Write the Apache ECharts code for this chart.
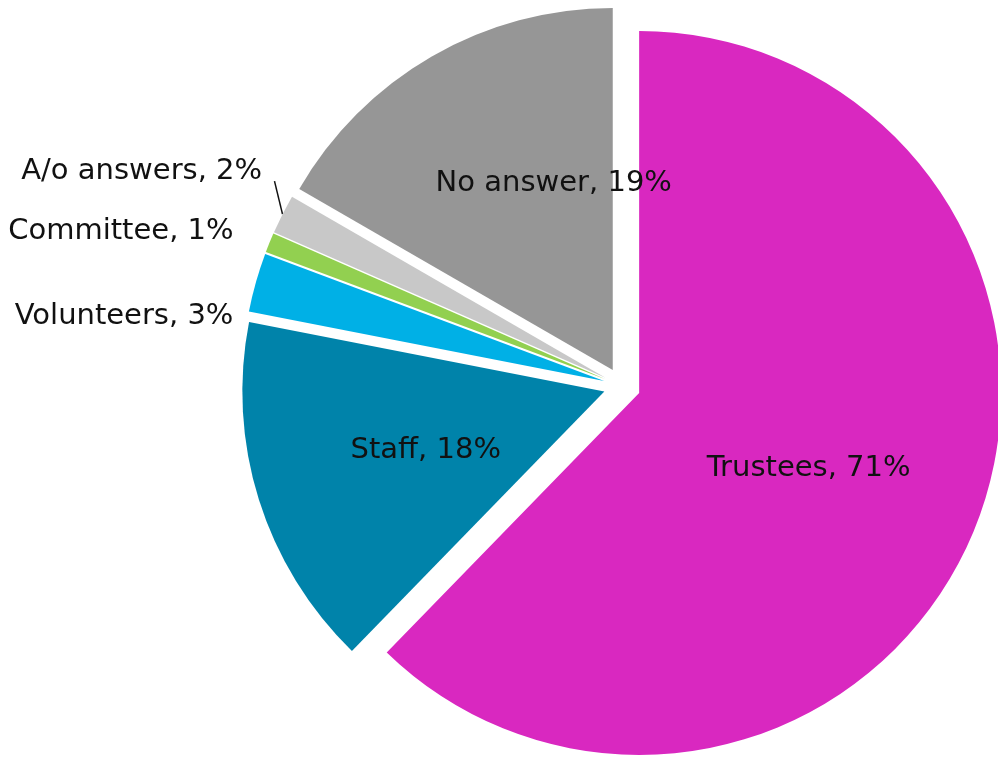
<!DOCTYPE html>
<html>
<head>
<meta charset="utf-8">
<script src="https://cdn.jsdelivr.net/npm/echarts@6/dist/echarts.min.js"></script>
<style>
  html, body { margin: 0; padding: 0; background: #fff; }
  #main { width: 998px; height: 764px; }
</style>
</head>
<body>
<div id="main"></div>
<script>
const categories = ['Trustees', 'Staff', 'Volunteers', 'Committee', 'A/o answers', 'No answer'];
const percents = [71, 18, 3, 1, 2, 19];

const palette = ['#D928C0', '#0083AA', '#00B0E6', '#92D050', '#C8C8C8', '#969696'];
// small nudges so labels sit where the original put them
const labelShift = [[-1, 6], [-3, 4], [12, 38], [-2, -6], [13, -36], [33, -27]];
const outside = [false, false, true, true, true, false];
const showLine = [false, false, false, false, true, false];

const chart = echarts.init(document.getElementById('main'));

const data = categories.map((name, i) => ({
  name,
  value: percents[i],
  selected: true,
  itemStyle: { color: palette[i] },
  label: { position: outside[i] ? 'outside' : 'inside' },
  labelLine: { show: showLine[i] }
}));

chart.setOption({
  animation: false,
  series: [
    {
      type: 'pie',
      center: [622, 386],
      radius: 362,
      startAngle: 90,
      clockwise: true,
      selectedMode: 'multiple',
      selectedOffset: 18.5,
      avoidLabelOverlap: false,
      emphasis: { disabled: true },
      label: {
        show: true,
        formatter: '{b}, {c}%',
        fontFamily: 'DejaVu Sans',
        fontSize: 29,
        color: '#111'
      },
      labelLine: {
        length: 15,
        length2: 15,
        lineStyle: { color: '#111', width: 1.5 }
      },
      labelLayout: params => {
        const s = labelShift[params.dataIndex];
        const out = { dx: s[0], dy: s[1] };
        const pts = params.labelLinePoints;
        if (showLine[params.dataIndex] && pts) {
          // short leader going up from the slice edge towards the label
          const p0 = pts[0];
          out.labelLinePoints = [p0, [p0[0] - 8, p0[1] - 33]];
        }
        return out;
      },
      data
    }
  ]
});
</script>
</body>
</html>
